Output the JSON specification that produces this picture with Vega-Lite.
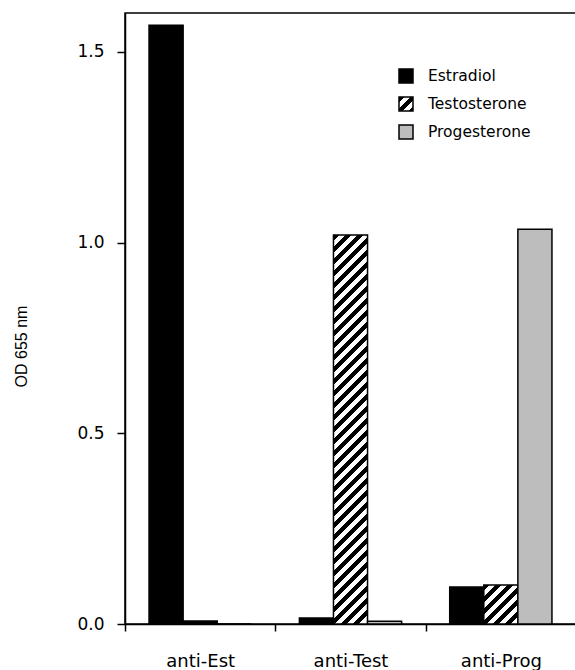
{
  "$schema": "https://vega.github.io/schema/vega-lite/v6.json",
  "autosize": {"type": "none"},
  "padding": {"left": 125, "top": 13, "right": 0, "bottom": 46},
  "width": 451,
  "height": 611,
  "background": "white",
  "config": {
    "view": {"stroke": "black", "strokeWidth": 1.5},
    "axis": {"domainColor": "black", "domainWidth": 1.5, "tickColor": "black", "tickWidth": 1.5, "labelColor": "black", "titleColor": "black", "labelFont": "DejaVu Sans", "titleFont": "Liberation Sans", "grid": false}
  },
  "data": {"values": [
    {"group": "anti-Est", "hormone": "Estradiol", "od": 1.570},
    {"group": "anti-Est", "hormone": "Testosterone", "od": 0.008},
    {"group": "anti-Est", "hormone": "Progesterone", "od": 0.0},
    {"group": "anti-Test", "hormone": "Estradiol", "od": 0.016},
    {"group": "anti-Test", "hormone": "Testosterone", "od": 1.020},
    {"group": "anti-Test", "hormone": "Progesterone", "od": 0.007},
    {"group": "anti-Prog", "hormone": "Estradiol", "od": 0.097},
    {"group": "anti-Prog", "hormone": "Testosterone", "od": 0.102},
    {"group": "anti-Prog", "hormone": "Progesterone", "od": 1.035}
  ]},
  "mark": {"type": "bar", "stroke": "black", "strokeWidth": 1.5},
  "encoding": {
    "x": {"field": "group", "type": "nominal", "sort": ["anti-Est", "anti-Test", "anti-Prog"],
      "scale": {"paddingInner": 0, "paddingOuter": 0},
      "axis": {"title": null, "labelAngle": 0, "tickBand": "extent", "tickSize": 7, "labelPadding": 21, "labelFontSize": 18}},
    "xOffset": {"field": "hormone", "type": "nominal", "sort": ["Estradiol", "Testosterone", "Progesterone"], "scale": {"paddingInner": 0, "paddingOuter": 0.7056}},
    "y": {"field": "od", "type": "quantitative",
      "scale": {"domain": [0, 1.602], "nice": false, "zero": true},
      "axis": {"title": "OD 655 nm", "values": [0, 0.5, 1, 1.5], "format": ".1f", "tickSize": 8, "labelPadding": 13, "labelFontSize": 17, "titleFontSize": 16, "titleFontWeight": "normal", "titleX": -104, "titleY": 333, "titleAngle": 270, "titleAlign": "center", "titleBaseline": "middle"}},
    "fill": {"field": "hormone", "type": "nominal",
      "scale": {"domain": ["Estradiol", "Testosterone", "Progesterone"], "range": ["#000000",
        {"expr": "{gradient: 'linear', x1: 0, y1: 0, x2: 1.0714, y2: 1.0714, stops: [{offset: 0, color: '#000'}, {offset: 0.2, color: '#000'}, {offset: 0.2, color: '#fff'}, {offset: 0.4, color: '#fff'}, {offset: 0.4, color: '#000'}, {offset: 0.6, color: '#000'}, {offset: 0.6, color: '#fff'}, {offset: 0.8, color: '#fff'}, {offset: 0.8, color: '#000'}, {offset: 1, color: '#000'}]}"},
        "#bdbdbd"]},
      "legend": {"title": null, "orient": "none", "legendX": 273, "legendY": 55, "padding": 0, "symbolType": "square", "symbolSize": 196, "symbolStrokeColor": "black", "symbolStrokeWidth": 1.5, "labelFont": "DejaVu Sans", "labelFontSize": 15.5, "labelColor": "black", "labelOffset": 14, "rowPadding": 8},
      "condition": [
        {"test": "datum.group === 'anti-Test' && datum.hormone === 'Testosterone'", "value": {"gradient": "linear", "x1": 0, "y1": 0, "x2": 0.09382, "y2": 1.0712, "stops": [
          {"offset": 0, "color": "#000"},
          {"offset": 0.0143, "color": "#000"}, {"offset": 0.0143, "color": "#fff"},
          {"offset": 0.0286, "color": "#fff"}, {"offset": 0.0286, "color": "#000"},
          {"offset": 0.0429, "color": "#000"}, {"offset": 0.0429, "color": "#fff"},
          {"offset": 0.0571, "color": "#fff"}, {"offset": 0.0571, "color": "#000"},
          {"offset": 0.0714, "color": "#000"}, {"offset": 0.0714, "color": "#fff"},
          {"offset": 0.0857, "color": "#fff"}, {"offset": 0.0857, "color": "#000"},
          {"offset": 0.1, "color": "#000"}, {"offset": 0.1, "color": "#fff"},
          {"offset": 0.1143, "color": "#fff"}, {"offset": 0.1143, "color": "#000"},
          {"offset": 0.1286, "color": "#000"}, {"offset": 0.1286, "color": "#fff"},
          {"offset": 0.1429, "color": "#fff"}, {"offset": 0.1429, "color": "#000"},
          {"offset": 0.1571, "color": "#000"}, {"offset": 0.1571, "color": "#fff"},
          {"offset": 0.1714, "color": "#fff"}, {"offset": 0.1714, "color": "#000"},
          {"offset": 0.1857, "color": "#000"}, {"offset": 0.1857, "color": "#fff"},
          {"offset": 0.2, "color": "#fff"}, {"offset": 0.2, "color": "#000"},
          {"offset": 0.2143, "color": "#000"}, {"offset": 0.2143, "color": "#fff"},
          {"offset": 0.2286, "color": "#fff"}, {"offset": 0.2286, "color": "#000"},
          {"offset": 0.2429, "color": "#000"}, {"offset": 0.2429, "color": "#fff"},
          {"offset": 0.2571, "color": "#fff"}, {"offset": 0.2571, "color": "#000"},
          {"offset": 0.2714, "color": "#000"}, {"offset": 0.2714, "color": "#fff"},
          {"offset": 0.2857, "color": "#fff"}, {"offset": 0.2857, "color": "#000"},
          {"offset": 0.3, "color": "#000"}, {"offset": 0.3, "color": "#fff"},
          {"offset": 0.3143, "color": "#fff"}, {"offset": 0.3143, "color": "#000"},
          {"offset": 0.3286, "color": "#000"}, {"offset": 0.3286, "color": "#fff"},
          {"offset": 0.3429, "color": "#fff"}, {"offset": 0.3429, "color": "#000"},
          {"offset": 0.3571, "color": "#000"}, {"offset": 0.3571, "color": "#fff"},
          {"offset": 0.3714, "color": "#fff"}, {"offset": 0.3714, "color": "#000"},
          {"offset": 0.3857, "color": "#000"}, {"offset": 0.3857, "color": "#fff"},
          {"offset": 0.4, "color": "#fff"}, {"offset": 0.4, "color": "#000"},
          {"offset": 0.4143, "color": "#000"}, {"offset": 0.4143, "color": "#fff"},
          {"offset": 0.4286, "color": "#fff"}, {"offset": 0.4286, "color": "#000"},
          {"offset": 0.4429, "color": "#000"}, {"offset": 0.4429, "color": "#fff"},
          {"offset": 0.4571, "color": "#fff"}, {"offset": 0.4571, "color": "#000"},
          {"offset": 0.4714, "color": "#000"}, {"offset": 0.4714, "color": "#fff"},
          {"offset": 0.4857, "color": "#fff"}, {"offset": 0.4857, "color": "#000"},
          {"offset": 0.5, "color": "#000"}, {"offset": 0.5, "color": "#fff"},
          {"offset": 0.5143, "color": "#fff"}, {"offset": 0.5143, "color": "#000"},
          {"offset": 0.5286, "color": "#000"}, {"offset": 0.5286, "color": "#fff"},
          {"offset": 0.5429, "color": "#fff"}, {"offset": 0.5429, "color": "#000"},
          {"offset": 0.5571, "color": "#000"}, {"offset": 0.5571, "color": "#fff"},
          {"offset": 0.5714, "color": "#fff"}, {"offset": 0.5714, "color": "#000"},
          {"offset": 0.5857, "color": "#000"}, {"offset": 0.5857, "color": "#fff"},
          {"offset": 0.6, "color": "#fff"}, {"offset": 0.6, "color": "#000"},
          {"offset": 0.6143, "color": "#000"}, {"offset": 0.6143, "color": "#fff"},
          {"offset": 0.6286, "color": "#fff"}, {"offset": 0.6286, "color": "#000"},
          {"offset": 0.6429, "color": "#000"}, {"offset": 0.6429, "color": "#fff"},
          {"offset": 0.6571, "color": "#fff"}, {"offset": 0.6571, "color": "#000"},
          {"offset": 0.6714, "color": "#000"}, {"offset": 0.6714, "color": "#fff"},
          {"offset": 0.6857, "color": "#fff"}, {"offset": 0.6857, "color": "#000"},
          {"offset": 0.7, "color": "#000"}, {"offset": 0.7, "color": "#fff"},
          {"offset": 0.7143, "color": "#fff"}, {"offset": 0.7143, "color": "#000"},
          {"offset": 0.7286, "color": "#000"}, {"offset": 0.7286, "color": "#fff"},
          {"offset": 0.7429, "color": "#fff"}, {"offset": 0.7429, "color": "#000"},
          {"offset": 0.7571, "color": "#000"}, {"offset": 0.7571, "color": "#fff"},
          {"offset": 0.7714, "color": "#fff"}, {"offset": 0.7714, "color": "#000"},
          {"offset": 0.7857, "color": "#000"}, {"offset": 0.7857, "color": "#fff"},
          {"offset": 0.8, "color": "#fff"}, {"offset": 0.8, "color": "#000"},
          {"offset": 0.8143, "color": "#000"}, {"offset": 0.8143, "color": "#fff"},
          {"offset": 0.8286, "color": "#fff"}, {"offset": 0.8286, "color": "#000"},
          {"offset": 0.8429, "color": "#000"}, {"offset": 0.8429, "color": "#fff"},
          {"offset": 0.8571, "color": "#fff"}, {"offset": 0.8571, "color": "#000"},
          {"offset": 0.8714, "color": "#000"}, {"offset": 0.8714, "color": "#fff"},
          {"offset": 0.8857, "color": "#fff"}, {"offset": 0.8857, "color": "#000"},
          {"offset": 0.9, "color": "#000"}, {"offset": 0.9, "color": "#fff"},
          {"offset": 0.9143, "color": "#fff"}, {"offset": 0.9143, "color": "#000"},
          {"offset": 0.9286, "color": "#000"}, {"offset": 0.9286, "color": "#fff"},
          {"offset": 0.9429, "color": "#fff"}, {"offset": 0.9429, "color": "#000"},
          {"offset": 0.9571, "color": "#000"}, {"offset": 0.9571, "color": "#fff"},
          {"offset": 0.9714, "color": "#fff"}, {"offset": 0.9714, "color": "#000"},
          {"offset": 0.9857, "color": "#000"}, {"offset": 0.9857, "color": "#fff"},
          {"offset": 1, "color": "#fff"}
        ]}},
        {"test": "datum.group === 'anti-Prog' && datum.hormone === 'Testosterone'", "value": {"gradient": "linear", "x1": 0, "y1": 0, "x2": 0.9174, "y2": 1.0472, "stops": [
          {"offset": 0, "color": "#000"},
          {"offset": 0.0833, "color": "#000"}, {"offset": 0.0833, "color": "#fff"},
          {"offset": 0.1667, "color": "#fff"}, {"offset": 0.1667, "color": "#000"},
          {"offset": 0.25, "color": "#000"}, {"offset": 0.25, "color": "#fff"},
          {"offset": 0.3333, "color": "#fff"}, {"offset": 0.3333, "color": "#000"},
          {"offset": 0.4167, "color": "#000"}, {"offset": 0.4167, "color": "#fff"},
          {"offset": 0.5, "color": "#fff"}, {"offset": 0.5, "color": "#000"},
          {"offset": 0.5833, "color": "#000"}, {"offset": 0.5833, "color": "#fff"},
          {"offset": 0.6667, "color": "#fff"}, {"offset": 0.6667, "color": "#000"},
          {"offset": 0.75, "color": "#000"}, {"offset": 0.75, "color": "#fff"},
          {"offset": 0.8333, "color": "#fff"}, {"offset": 0.8333, "color": "#000"},
          {"offset": 0.9167, "color": "#000"}, {"offset": 0.9167, "color": "#fff"},
          {"offset": 1, "color": "#fff"}
        ]}},
        {"test": "datum.group === 'anti-Est' && datum.hormone === 'Testosterone'", "value": "#000000"}
      ]
    }
  }
}
